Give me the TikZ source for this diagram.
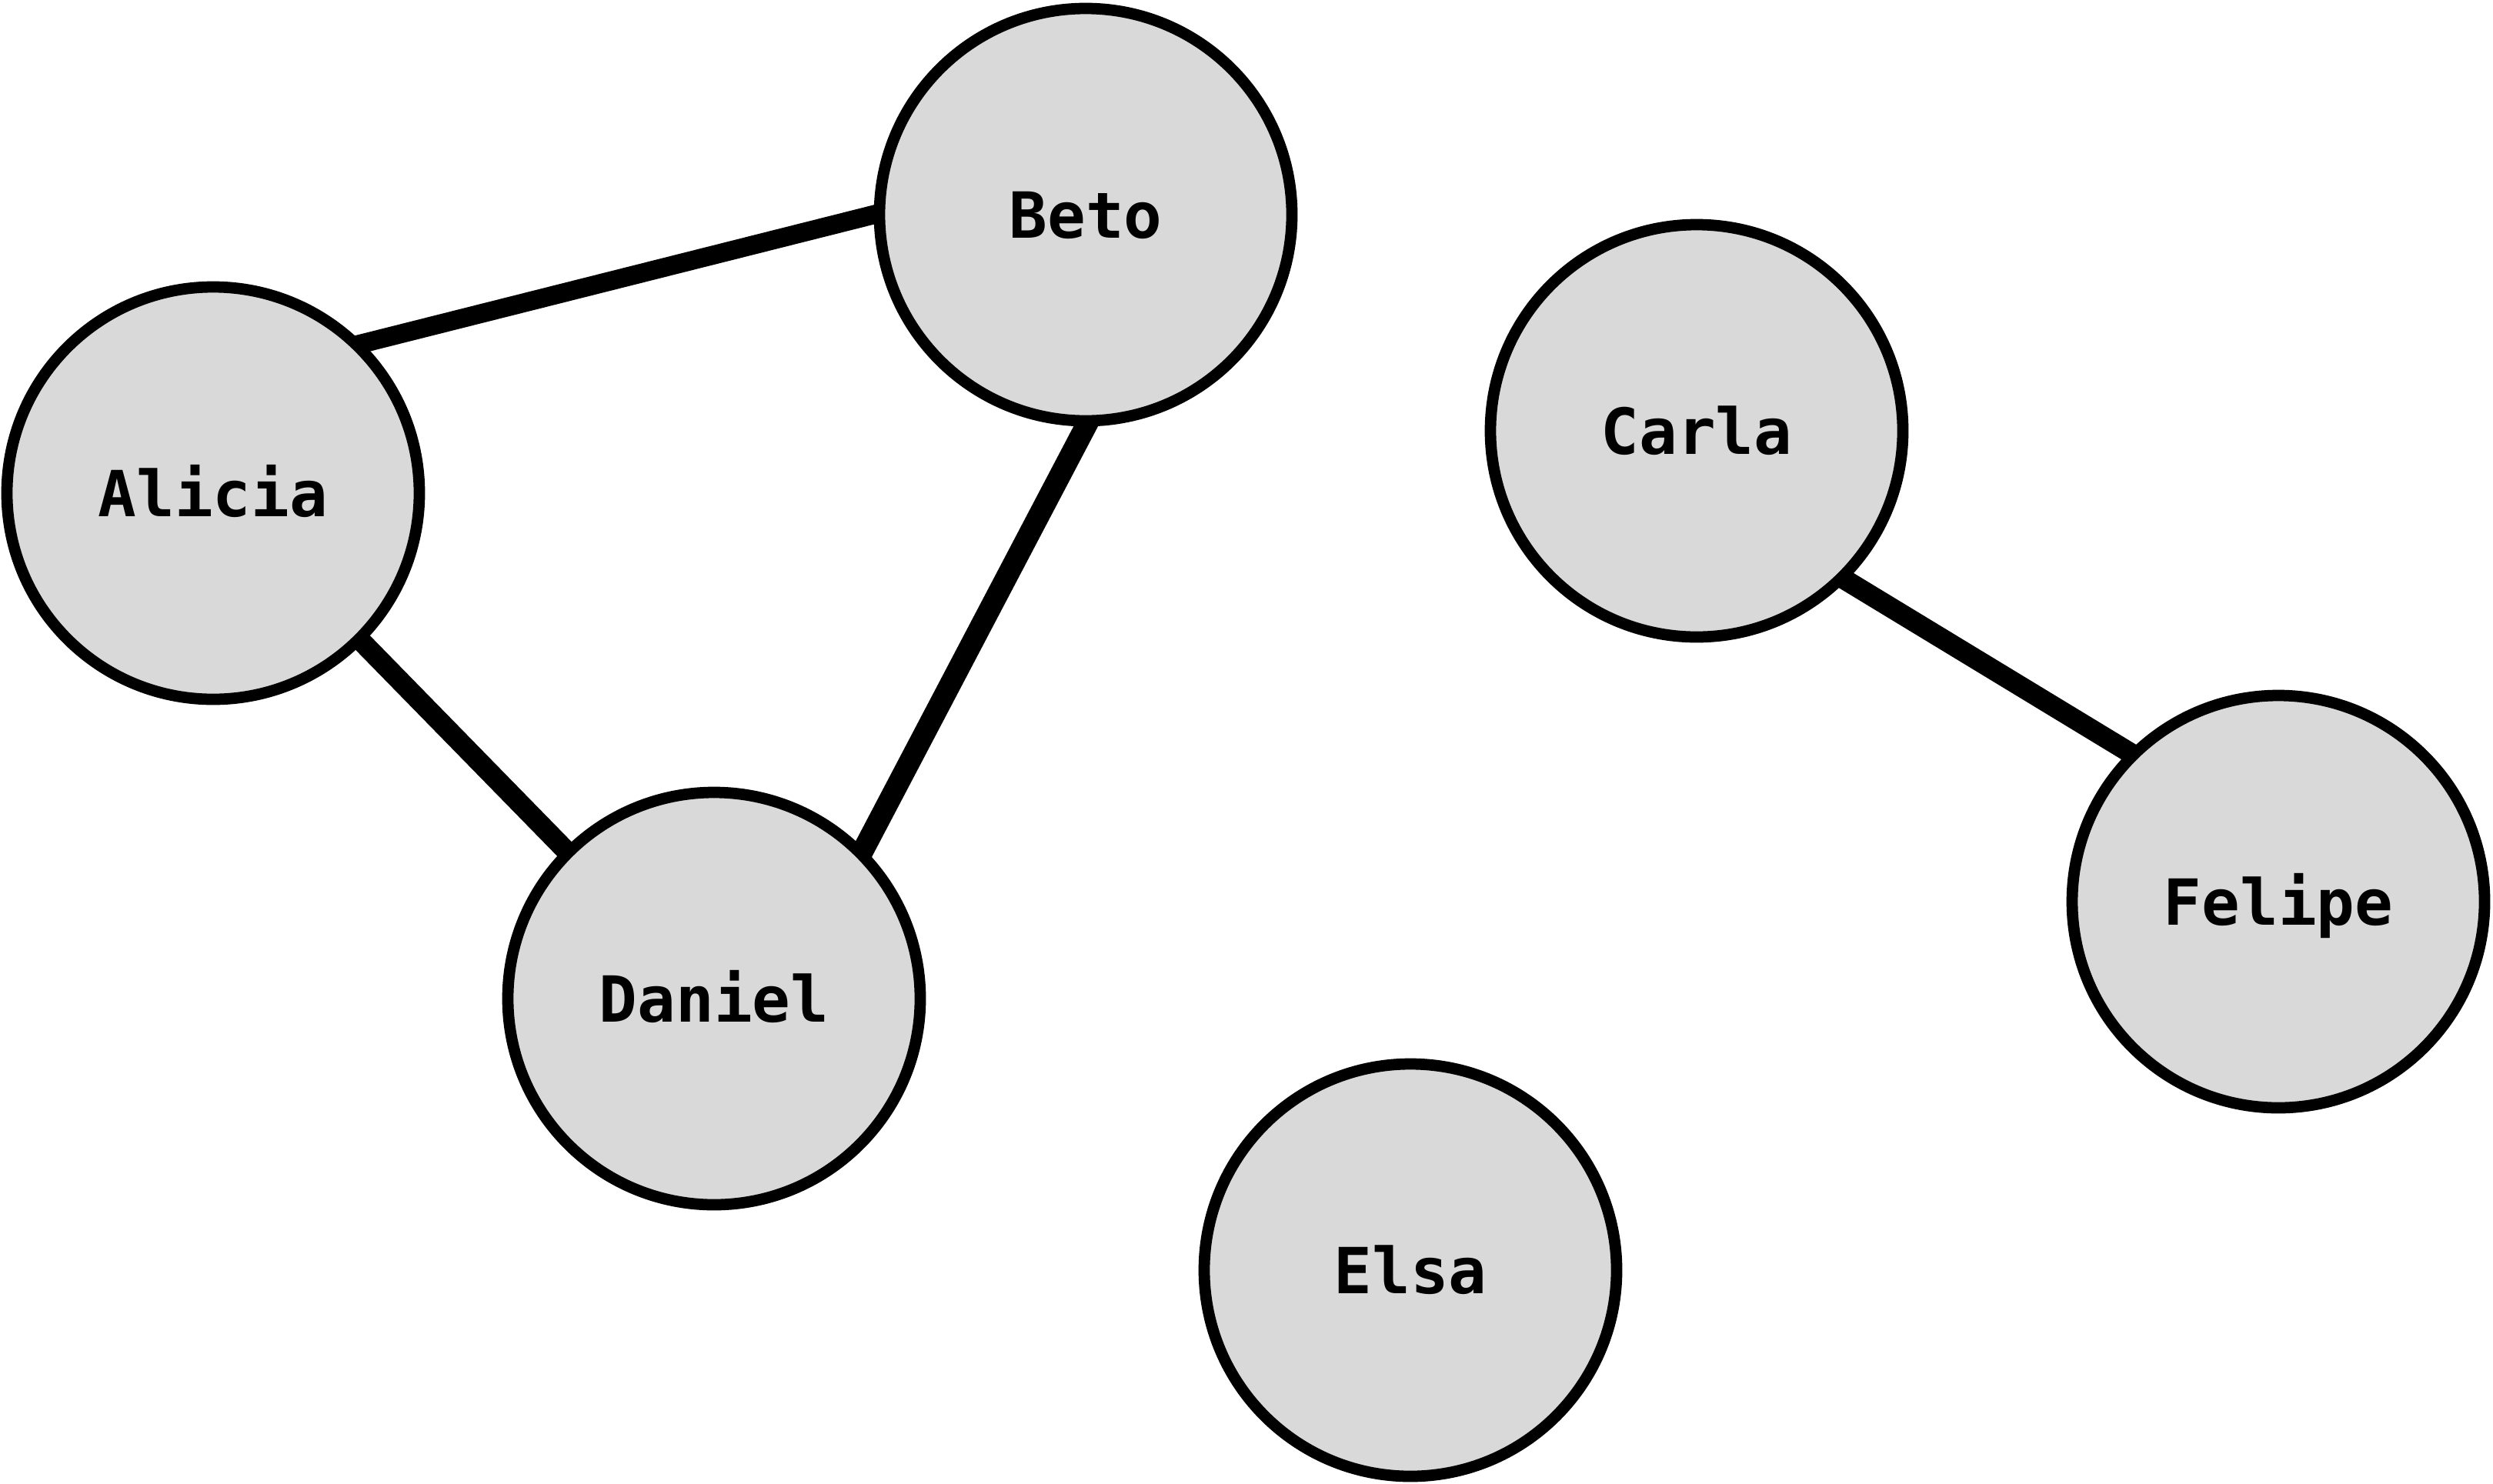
\documentclass[tikz,border=0pt]{standalone}
\usepackage{fontspec}
\setmonofont{DejaVu Sans Mono}
\usepackage{tikz}
\usetikzlibrary{backgrounds}
\definecolor{nodeG}{RGB}{217,217,217}
\tikzset{person/.style={circle, draw=black, fill=nodeG, line width=4.2pt,
  minimum size=5.36cm, inner sep=0pt,
  font=\fontsize{23.5}{28}\selectfont\ttfamily\bfseries,
  text height=17.1pt, text depth=0pt},
  link/.style={line width=#1, black, shorten <=-12pt, shorten >=-12pt}}

\begin{document}
\begin{tikzpicture}
\useasboundingbox (0,0) rectangle (32.4,-19.28);
% ======== people ========
\node[person] (alicia) at (2.77,-6.41) {Alicia};
\node[person] (beto) at (14.11,-2.79) {Beto};
\node[person] (carla) at (22.05,-5.60) {Carla};
\node[person] (daniel) at (9.28,-12.98) {Daniel};
\node[person] (elsa) at (18.33,-16.51) {Elsa};
\node[person] (felipe) at (29.61,-11.72) {Felipe};
% ======== links: under the circles ========
\begin{scope}[on background layer]
\draw[link=7pt] (alicia.north east) -- (beto.west);
\draw[link=8pt] (beto.south) -- (daniel.north east);
\draw[link=7.5pt] (alicia.south east) -- (daniel.north west);
\draw[link=7.5pt] (carla.south east) -- (felipe.north west);
\end{scope}
\end{tikzpicture}
\end{document}
